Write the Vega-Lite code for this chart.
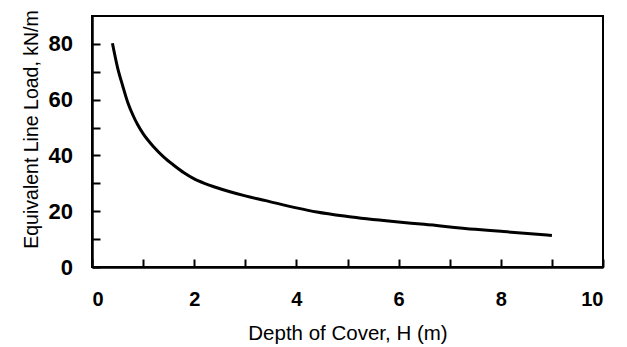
{
  "$schema": "https://vega.github.io/schema/vega-lite/v6.json",
  "width": 511,
  "height": 251,
  "autosize": {"type": "none"},
  "padding": {"left": 92, "top": 16, "right": 24, "bottom": 80},
  "background": "white",
  "config": {
    "view": {"stroke": "black", "strokeWidth": 2},
    "font": "Liberation Sans",
    "axis": {
      "grid": false,
      "domainColor": "black",
      "domainWidth": 2.5,
      "tickColor": "black",
      "tickWidth": 2,
      "tickSize": -8,
      "labelFont": "Liberation Sans",
      "labelFontWeight": "bold",
      "labelColor": "black",
      "titleFont": "Liberation Sans",
      "titleFontWeight": "normal",
      "titleColor": "black"
    }
  },
  "data": {
    "values": [
      {"H": 0.4, "load": 80.2},
      {"H": 0.5, "load": 71.5},
      {"H": 0.6, "load": 65},
      {"H": 0.7, "load": 59},
      {"H": 0.8, "load": 54.5},
      {"H": 0.9, "load": 50.8},
      {"H": 1.0, "load": 47.8},
      {"H": 1.2, "load": 43.2},
      {"H": 1.4, "load": 39.5},
      {"H": 1.6, "load": 36.5},
      {"H": 1.8, "load": 33.8},
      {"H": 2.0, "load": 31.6},
      {"H": 2.2, "load": 30},
      {"H": 2.4, "load": 28.7},
      {"H": 2.7, "load": 27},
      {"H": 3.0, "load": 25.5},
      {"H": 3.4, "load": 23.8},
      {"H": 4.0, "load": 21.2},
      {"H": 4.4, "load": 19.7},
      {"H": 5.0, "load": 18.1},
      {"H": 5.9, "load": 16.3},
      {"H": 6.5, "load": 15.3},
      {"H": 7.5, "load": 13.5},
      {"H": 8.0, "load": 12.8},
      {"H": 9.0, "load": 11.3}
    ]
  },
  "mark": {"type": "line", "color": "black", "strokeWidth": 3, "interpolate": "monotone"},
  "encoding": {
    "x": {
      "field": "H",
      "type": "quantitative",
      "scale": {"domain": [0, 10], "nice": false},
      "axis": {
        "title": "Depth of Cover, H (m)",
        "titleFontSize": 20.5,
        "labelFontSize": 20,
        "values": [0, 1, 2, 3, 4, 5, 6, 7, 8, 9, 10],
        "labelExpr": "datum.value % 2 == 0 ? datum.label : ''",
        "labelPadding": 30,
        "titleY": 66,
        "titleBaseline": "middle"
      }
    },
    "y": {
      "field": "load",
      "type": "quantitative",
      "scale": {"domain": [0, 90], "nice": false},
      "axis": {
        "title": "Equivalent Line Load, kN/m",
        "titleFontSize": 19.5,
        "labelFontSize": 22,
        "values": [0, 10, 20, 30, 40, 50, 60, 70, 80],
        "labelExpr": "datum.value % 20 == 0 ? datum.label : ''",
        "labelPadding": 27.5,
        "titleX": -61,
        "titleY": 113,
        "titleAngle": -90,
        "titleBaseline": "middle"
      }
    }
  }
}
